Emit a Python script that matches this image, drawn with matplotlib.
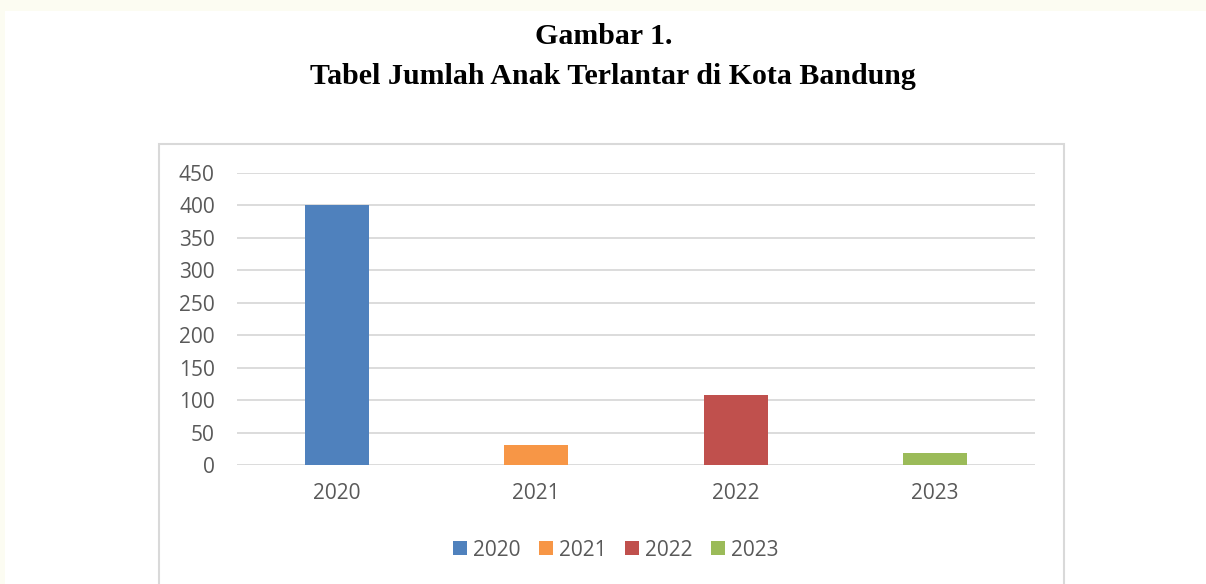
import matplotlib
matplotlib.use("Agg")
import matplotlib.pyplot as plt
from matplotlib.patches import Rectangle, Patch

categories = ["2020", "2021", "2022", "2023"]
values = [400, 31, 108, 19]
colors = ["#4F81BD", "#F79646", "#C0504D", "#9BBB59"]
yticks = [0, 50, 100, 150, 200, 250, 300, 350, 400, 450]
title1 = "Gambar 1."
title2 = "Tabel Jumlah Anak Terlantar di Kota Bandung"

W, H = 1206, 584
fig = plt.figure(figsize=(W / 100, H / 100), dpi=100)
fig.patch.set_facecolor("white")

cream = "#FCFCF2"
# page strips
fig.patches.append(Rectangle((0, 1 - 10.5 / H), 1, 10.5 / H, transform=fig.transFigure,
                             facecolor=cream, edgecolor="none", zorder=0))
fig.patches.append(Rectangle((0, 0), 5 / W, 1, transform=fig.transFigure,
                             facecolor=cream, edgecolor="none", zorder=0))

# chart frame
fig.patches.append(Rectangle((159 / W, -0.05), (1064 - 159) / W, 0.05 + (1 - 144 / H),
                             transform=fig.transFigure, facecolor="white",
                             edgecolor="#D9D9D9", linewidth=1.5, zorder=0.5))

fig.text(604 / W, 1 - 37 / H, title1, ha="center", va="center",
         fontsize=21.5, fontweight="bold", family="Liberation Serif")
fig.text(613 / W, 1 - 77 / H, title2, ha="center", va="center",
         fontsize=21.5, fontweight="bold", family="Liberation Serif")

ax = fig.add_axes([237 / W, 1 - 465 / H, (1035 - 237) / W, (465 - 173) / H])
ax.set_zorder(2)
ax.set_facecolor("none")
x = list(range(len(categories)))
ax.bar(x, values, width=0.32, color=colors, zorder=3)
ax.set_xlim(-0.5, len(categories) - 0.5)
ax.set_ylim(0, 450)
ax.set_yticks(yticks)
ax.set_yticklabels([str(v) for v in yticks])
ax.set_xticks(x)
ax.set_xticklabels(categories)
ax.grid(axis="y", color="#D9D9D9", linewidth=1.3, zorder=0)
ax.set_axisbelow(True)
for s in ax.spines.values():
    s.set_visible(False)
ax.tick_params(axis="both", length=0, labelsize=15, labelcolor="#595959")
ax.tick_params(axis="y", pad=16)
ax.tick_params(axis="x", pad=13)
for lab in ax.get_xticklabels() + ax.get_yticklabels():
    lab.set_family("Open Sans")

handles = [Patch(facecolor=c, edgecolor="none", label=l) for c, l in zip(colors, categories)]
leg = fig.legend(handles=handles, loc="center", bbox_to_anchor=(616 / W, 1 - 550 / H),
                 ncol=4, frameon=False, handlelength=0.65, handleheight=0.65,
                 handletextpad=0.3, columnspacing=0.9,
                 prop={"family": "Open Sans", "size": 15})
for t in leg.get_texts():
    t.set_color("#595959")

fig.savefig("out.png", dpi=100, facecolor=fig.get_facecolor())
